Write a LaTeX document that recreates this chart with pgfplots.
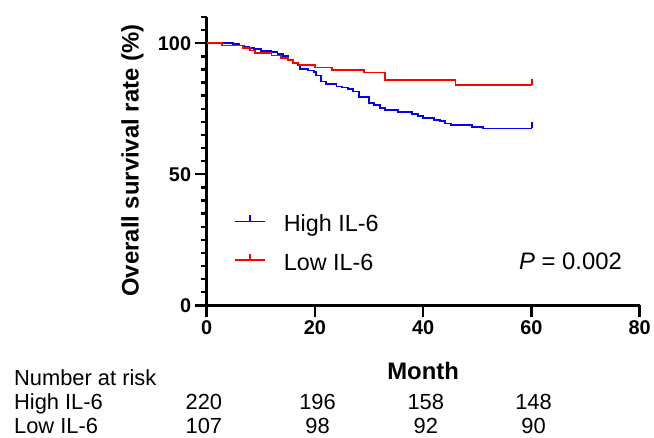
\documentclass[border=0pt]{standalone}
\usepackage{fontspec}
\setmainfont{Liberation Sans}
\usepackage{pgfplots}
\pgfplotsset{compat=1.18}

% censor tick: short vertical stroke going up from the curve
\pgfdeclareplotmark{cens}{%
  \pgfpathmoveto{\pgfpoint{0pt}{0pt}}%
  \pgfpathlineto{\pgfpoint{0pt}{6bp}}%
  \pgfusepathqstroke}

\begin{document}
\begin{tikzpicture}
\begin{axis}[
    scale only axis,
    width=434bp, height=289bp,
    xmin=0, xmax=80, ymin=0, ymax=110,
    axis lines=left,
    axis line style={-, line width=2.6bp},
    xtick={0,20,40,60,80},
    ytick={0,50,100},
    minor ytick={5,10,15,20,25,30,35,40,45,55,60,65,70,75,80,85,90,95,105,110},
    tick align=outside,
    major tick length=12bp,
    minor tick length=6bp,
    tick style={black, line width=2.4bp},
    /pgf/number format/assume math mode=true,
    tick label style={font=\bfseries\fontsize{20}{24}\selectfont},
    xlabel={Month},
    ylabel={Overall survival rate (\%)},
    xlabel style={at={(rel axis cs:0.5,-0.2561)}, anchor=base,
                  font=\bfseries\fontsize{24}{28}\selectfont},
    ylabel style={at={(rel axis cs:-0.1566,0.5018)}, anchor=base,
                  font=\bfseries\fontsize{24}{28}\selectfont},
    clip=false,
    legend cell align=left,
    legend style={at={(axis cs:5.03,34.75)}, anchor=north west,
                  draw=none, fill=none, inner sep=0pt, row sep=17bp,
                  nodes={inner sep=0pt, text height=17bp, text depth=5bp,
                         font=\fontsize{23.5}{27}\selectfont}},
    legend image code/.code={%
        \draw[#1, line width=1.8bp] (0bp,4bp) -- (30bp,4bp);
        \draw[#1, line width=2bp] (15bp,4bp) -- (15bp,10bp);
        \path[draw=none] (0bp,4bp) -- (49bp,4bp);},
]
% High IL-6
\addplot[blue, line width=1.8bp, const plot] coordinates {
    (0,100) (4.9,99.6) (6.0,99.1) (7.0,98.6) (7.9,98.2) (8.8,97.7)
    (10.1,97.1) (11.9,96.6) (13.1,95.8) (14.1,95.0) (15.0,93.8) (15.9,92.6)
    (16.9,91.6) (17.2,90.3) (18.7,89.6) (19.9,88.9) (20.2,87.7) (21.1,85.4)
    (22.1,84.4) (24.0,83.5) (25.0,83.1) (26.1,82.6) (27.0,81.6) (28.1,79.4)
    (30.0,77.2) (31.0,76.3) (32.1,75.3) (33.0,74.5) (35.3,73.8) (38.0,72.9)
    (39.0,72.2) (40.0,71.4) (42.0,70.8) (43.1,70.2) (44.1,69.4) (45.1,68.9)
    (49.0,68.0) (51.1,67.5) (60.2,67.5)
};
\addlegendentry{High IL-6}
% Low IL-6
\addplot[red, line width=1.8bp, const plot] coordinates {
    (0,100) (2.9,99.1) (6.7,98.1) (8.0,97.2) (9.0,96.3) (12.0,95.3)
    (13.8,94.4) (15.0,93.5) (15.9,92.5) (17.0,91.6) (20.0,90.7) (23.1,89.7)
    (29.1,88.8) (33.0,86.0) (46.0,84.1) (60.2,84.1)
};
\addlegendentry{Low IL-6}
% censored at end of follow-up
\addplot[blue, only marks, mark=cens, mark options={line width=2bp}, forget plot]
    coordinates {(60.2,67.5)};
\addplot[red, only marks, mark=cens, mark options={line width=2bp}, forget plot]
    coordinates {(60.2,84.1)};

\node[anchor=base east, font=\fontsize{24}{28}\selectfont]
    at (axis cs:77.37,13.70) {\textit{P} = 0.002};

% number at risk table
\begin{scope}[every node/.style={font=\fontsize{22}{26}\selectfont, inner sep=0pt}]
\node[anchor=base west] at (axis cs:-35.58,-30.4) {Number at risk};
\node[anchor=base west] at (axis cs:-35.58,-39.8) {High IL-6};
\node[anchor=base west] at (axis cs:-35.58,-48.7) {Low IL-6};
\node[anchor=base] at (axis cs:-0.5,-39.8) {220};
\node[anchor=base] at (axis cs:20.5,-39.8) {196};
\node[anchor=base] at (axis cs:40.5,-39.8) {158};
\node[anchor=base] at (axis cs:60.4,-39.8) {148};
\node[anchor=base] at (axis cs:-0.5,-48.7) {107};
\node[anchor=base] at (axis cs:20.5,-48.7) {98};
\node[anchor=base] at (axis cs:40.5,-48.7) {92};
\node[anchor=base] at (axis cs:60.4,-48.7) {90};
\end{scope}

% page frame matching the reference margins
\path (axis cs:-38.157,-50.25) rectangle (axis cs:82.396,116.48);
\end{axis}
\end{tikzpicture}
\end{document}
